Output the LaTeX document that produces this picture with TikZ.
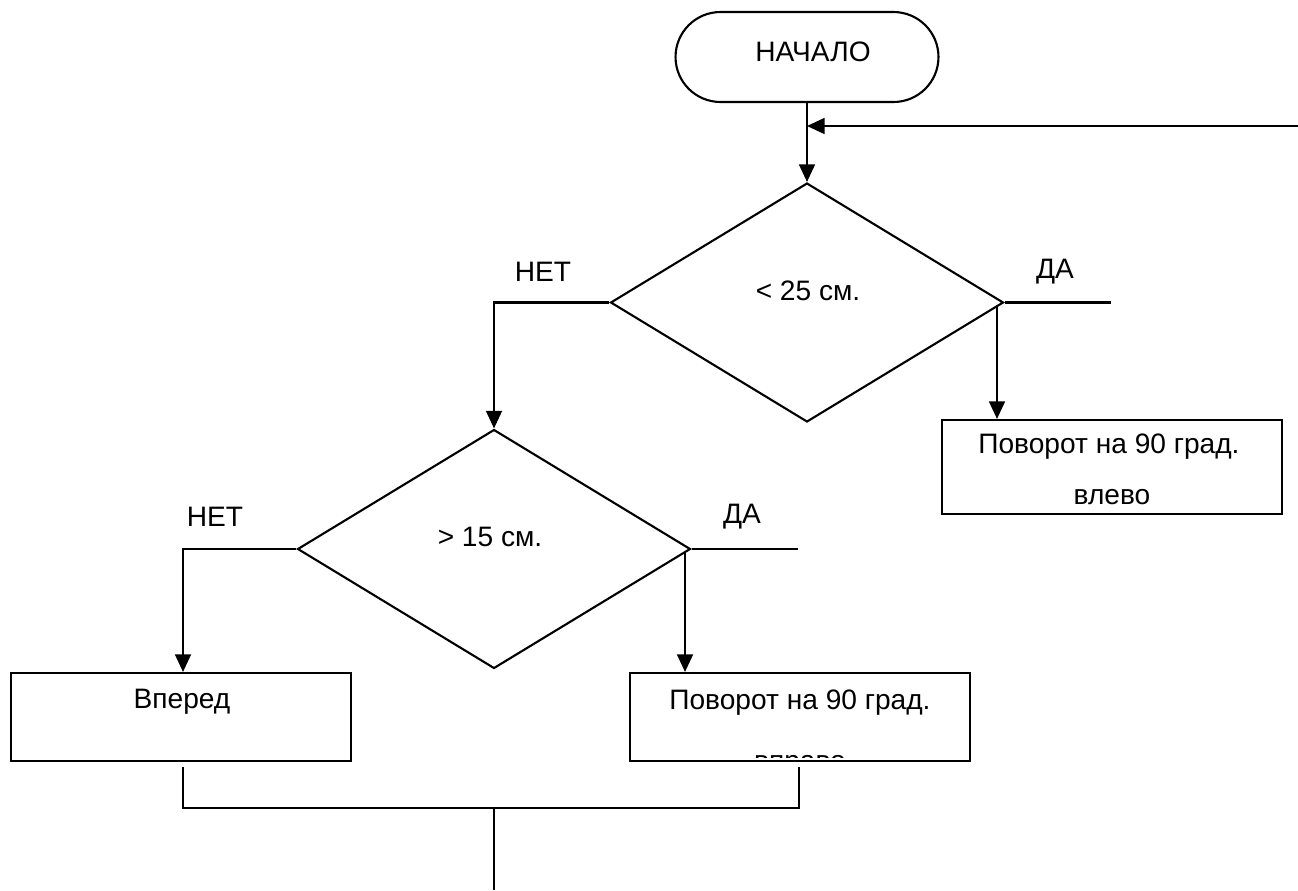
\documentclass[tikz,border=0pt]{standalone}
\usepackage{fontspec}
\setmainfont{Liberation Sans}
\usetikzlibrary{shapes.geometric,arrows.meta}
\tikzset{
	arr/.style={-{Triangle[length=10pt,width=9pt]}},
	blk/.style={draw,rectangle,minimum width=6.8cm,minimum height=1.76cm},
	cond/.style={draw,diamond,minimum width=7.86cm,minimum height=4.78cm,inner sep=0pt},
	txt/.style={inner sep=0pt}
}
\begin{document}
\begin{tikzpicture}[x=0.02cm,y=-0.02cm,line width=1.2pt,font=\fontsize{16}{19}\selectfont]
	\useasboundingbox (0,0) rectangle (1298,890);
	\node[draw,rectangle,rounded corners=0.9cm,minimum width=5.26cm,minimum height=1.8cm] (start) at (807,57) {};
	\node[txt] (startlbl) at (813,52) {НАЧАЛО};
	\node[cond] (d1) at (807,302.5) {};
	\node[txt] (d1lbl) at (808,291) {< 25 см.};
	\node[cond] (d2) at (494,549) {};
	\node[txt] (d2lbl) at (490,537) {> 15 см.};
	\node[blk,minimum height=1.88cm] (left) at (1112,467) {};
	\node[txt] (left1) at (1109,447) {Поворот на 90 град.};
	\node[txt] (left2) at (1112,497) {влево};
	\node[blk] (fwd) at (181,717) {};
	\node[txt] (fwdlbl) at (182,702) {Вперед};
	\node[blk] (right) at (800,717) {};
	\node[txt] (right1) at (800,703) {Поворот на 90 град.};
	\begin{scope}
		\clip (630,753) rectangle (970,757);
		\node[anchor=base,inner sep=0pt] (right2) at (800,770) {вправо};
	\end{scope}
	\node (no1) at (543,272) {НЕТ};
	\node (yes1) at (1055,272) {ДА};
	\node (no2) at (215,517) {НЕТ};
	\node (yes2) at (742,517) {ДА};
	\coordinate (back) at (1298,126);
	\coordinate (t1) at (997,305);
	\coordinate (t2) at (685,552);
	\coordinate (e1) at (1111,302.5);
	\coordinate (e2) at (798,549);
	\coordinate (j1) at (183,767);
	\coordinate (j2) at (799,767);
	\coordinate (m) at (494,808);
	\coordinate (out) at (494,890);
	\draw[arr] (start.south) -- (d1.north);
	\draw[arr] (back) -- (start.south |- back);
	\draw[arr] (d1.west) -| (d2.north);
	\draw (d1.east) -- (e1);
	\draw[arr] (t1) -- (t1 |- left.north);
	\draw[arr] (d2.west) -| (j1 |- fwd.north);
	\draw (d2.east) -- (e2);
	\draw[arr] (t2) -- (t2 |- right.north);
	\draw (j1) |- (m) -| (j2);
	\draw (m) -- (out);
\end{tikzpicture}
\end{document}
